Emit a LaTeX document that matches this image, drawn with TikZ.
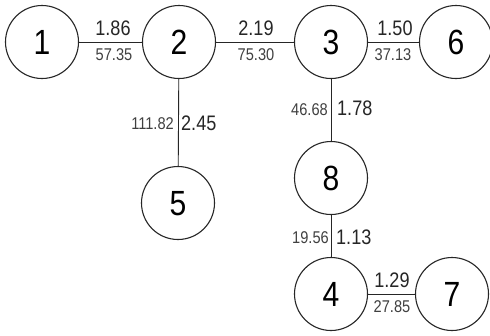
\documentclass[tikz,border=0pt]{standalone}
\usepackage{fontspec}
\setmainfont[FakeStretch=0.86]{Liberation Sans}
\begin{document}
\begin{tikzpicture}[x=1pt,y=-1pt,
  bus/.style={circle,draw=black!85,line width=1.1pt,minimum size=73pt,inner sep=0pt,
    font=\fontsize{35}{35}\selectfont,text height=25pt,text depth=0pt},
  link/.style={draw=black!85,line width=0.9pt},
  big/.style={inner sep=0pt,font=\fontsize{21}{21}\selectfont,text height=15pt,text depth=0pt,text=black!85},
  small/.style={inner sep=0pt,font=\fontsize{17}{17}\selectfont,text height=12pt,text depth=0pt,text=black!75}]
\fill[white] (0,0) rectangle (490,335);
\useasboundingbox (0,0) rectangle (490,335);
% buses
\node[bus] (n1) at (42,42) {1};
\node[bus] (n2) at (179,42) {2};
\node[bus] (n3) at (331,42) {3};
\node[bus] (n6) at (456,42) {6};
\node[bus] (n5) at (178,203) {5};
\node[bus] (n8) at (331,178) {8};
\node[bus] (n4) at (331,294) {4};
\node[bus] (n7) at (452,294) {7};
% links
\draw[link] (n1) -- (n2);
\draw[link] (n2) -- (n3);
\draw[link] (n3) -- (n6);
\draw[link] (n2) -- (n5);
\draw[link] (n3) -- (n8);
\draw[link] (n8) -- (n4);
\draw[link] (n4) -- (n7);
% labels
\node[big] (a12) at (113,28) {1.86};
\node[small] (b12) at (114,54) {57.35};
\node[big] (a23) at (256,28) {2.19};
\node[small] (b23) at (256,54) {75.30};
\node[big] (a36) at (395,28) {1.50};
\node[small] (b36) at (393,54) {37.13};
\node[big,anchor=west] (a25) at (181,122.5) {2.45};
\node[small,anchor=east] (b25) at (174,123) {111.82};
\node[big,anchor=west] (a38) at (337,108) {1.78};
\node[small,anchor=east] (b38) at (328,109) {46.68};
\node[big,anchor=west] (a84) at (336,237) {1.13};
\node[small,anchor=east] (b84) at (329,237) {19.56};
\node[big] (a47) at (392,280) {1.29};
\node[small] (b47) at (392,306) {27.85};
\end{tikzpicture}
\end{document}
